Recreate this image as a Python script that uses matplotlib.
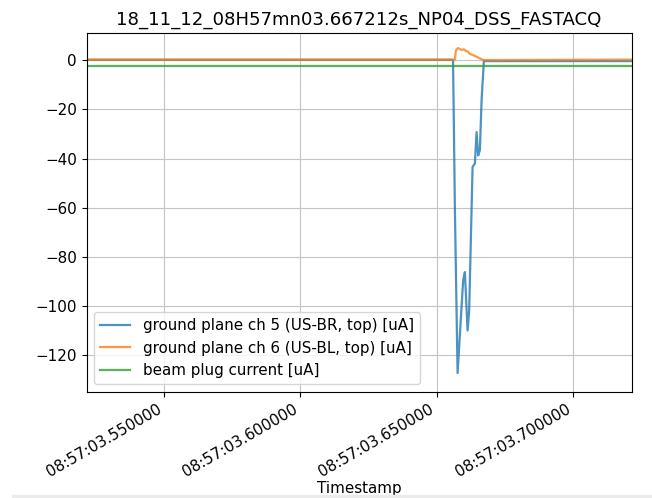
import matplotlib
matplotlib.use("Agg")
import matplotlib.pyplot as plt
import matplotlib.dates as mdates
from matplotlib.patches import Rectangle
import numpy as np
import pandas as pd


BASE_TIME = pd.Timestamp("2018-11-12 08:57:03")
TITLE = "18_11_12_08H57mn03.667212s_NP04_DSS_FASTACQ"

# seconds after 08:57:03 and currents in uA
CH5_T = [0.52159, 0.6560, 0.65667, 0.65766, 0.65971, 0.66034, 0.66133, 0.66191,
         0.66316, 0.66400, 0.66463, 0.66521, 0.66584, 0.66646, 0.66730, 0.72145]
CH5_I = [0.2, 0.2, -60.0, -127.3, -89.5, -86.2, -110.0, -102.0,
         -43.4, -42.0, -29.2, -38.7, -36.6, -16.3, -0.3, -0.3]

CH6_T = [0.52159, 0.65667, 0.65704, 0.65777, 0.65850, 0.65924, 0.65997, 0.66070,
         0.66144, 0.66217, 0.66364, 0.66510, 0.66657, 0.66730, 0.72145]
CH6_I = [0.3, 0.3, 4.0, 5.0, 4.6, 4.2, 4.5, 3.8,
         3.6, 2.6, 2.0, 1.2, 0.4, 0.1, 0.3]

PLUG_T = [0.52159, 0.72145]
PLUG_I = [-2.4, -2.4]

LABELS = [
    "ground plane ch 5 (US-BR, top) [uA]",
    "ground plane ch 6 (US-BL, top) [uA]",
    "beam plug current [uA]",
]

X_RANGE = (0.52159, 0.72145)
Y_RANGE = (-135.0, 11.0)


def to_times(seconds):
    return BASE_TIME + pd.to_timedelta(np.asarray(seconds), unit="s")


def main():
    plt.rcParams["font.size"] = 10.9
    fig, ax = plt.subplots(figsize=(6.52, 4.98), dpi=100)

    for t, i, label in zip((CH5_T, CH6_T, PLUG_T), (CH5_I, CH6_I, PLUG_I), LABELS):
        ax.plot(to_times(t), i, label=label, alpha=0.8, linewidth=1.6)

    ax.set_xlim(to_times([X_RANGE[0]])[0], to_times([X_RANGE[1]])[0])
    ax.set_ylim(*Y_RANGE)
    ax.xaxis.set_major_locator(mdates.MicrosecondLocator(interval=50000))
    ax.xaxis.set_major_formatter(mdates.DateFormatter("%H:%M:%S.%f"))
    ax.grid(True, color="#c4c4c4")
    ax.legend(loc="lower left")
    ax.set_title(TITLE, fontsize=13.1)
    ax.set_xlabel("Timestamp", labelpad=1)
    fig.autofmt_xdate()

    fig.subplots_adjust(left=0.1327, right=0.9686, bottom=0.2129, top=0.9331)

    # thin grey strip along the bottom edge
    fig.patches.append(Rectangle((12 / 652, 0), 1, 3 / 498, transform=fig.transFigure,
                                 color="#ebebeb", zorder=10))

    fig.savefig("out.png", dpi=100)


if __name__ == "__main__":
    main()
